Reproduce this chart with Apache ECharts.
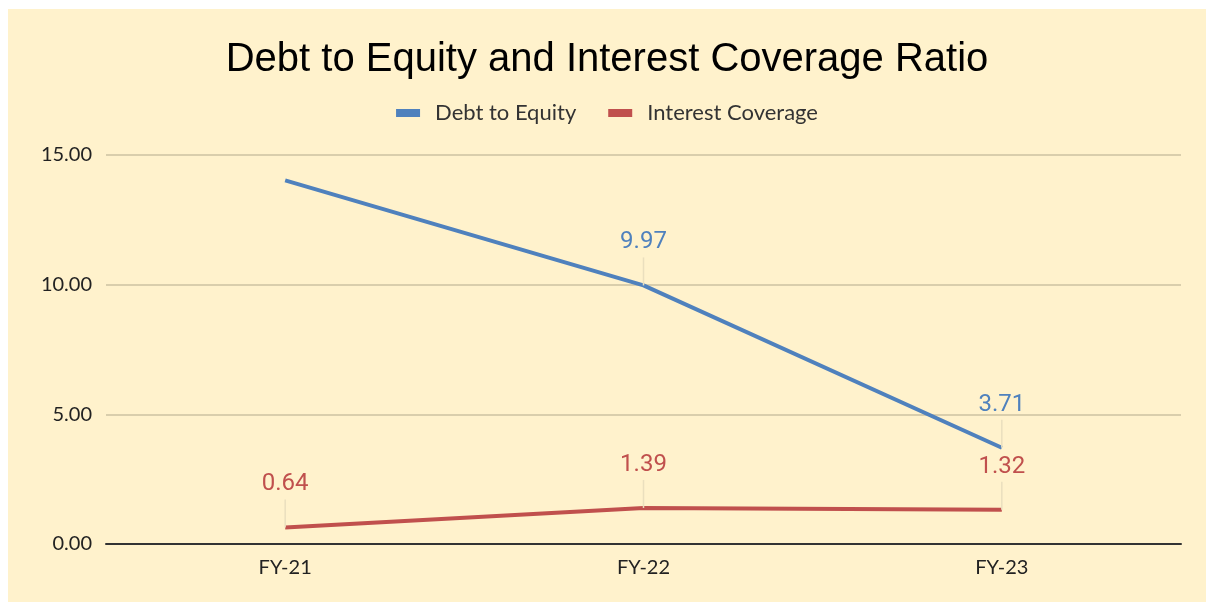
<!DOCTYPE html>
<html lang="en">
<head>
  <meta charset="utf-8">
  <title>Debt to Equity and Interest Coverage Ratio</title>
  <script src="https://cdn.jsdelivr.net/npm/echarts@6/dist/echarts.min.js"></script>
  <style>
    body { margin: 0; background: #fff; }
    .box {
      position: absolute;
      left: 8px;
      top: 9px;
      width: 1198px;
      height: 593px;
    }
  </style>
</head>
<body>
  <div class="box"></div>
  <script>
    // data
    var years = ['FY-21', 'FY-22', 'FY-23'];
    var debtToEquity = [14.02, 9.97, 3.71];
    var interestCoverage = [0.64, 1.39, 1.32];
    var showDebtLabel = [false, true, true];

    var myChart = echarts.init(document.querySelector('.box'));

    var debtData = debtToEquity.map(function (v, i) {
      return { value: v, label: { show: showDebtLabel[i] } };
    });

    function lineSeries(name, data, color) {
      return {
        name: name,
        type: 'line',
        data: data,
        symbol: 'circle',
        symbolSize: 0,
        showSymbol: true,
        lineStyle: { color: color, width: 4 },
        itemStyle: { color: color },
        label: {
          show: true,
          position: 'top',
          distance: 0,
          // number on top, thin leader line under it
          formatter: function (p) { return '{v|' + p.value.toFixed(2) + '}\n{l|}'; },
          rich: {
            v: { color: color, fontFamily: 'Roboto', fontSize: 24, lineHeight: 30 },
            l: { width: 1.5, height: 28, backgroundColor: '#EADFBE' }
          }
        },
        emphasis: { disabled: true }
      };
    }

    var option = {
      backgroundColor: '#FFF2CC',
      animation: false,
      title: {
        text: 'Debt to Equity and Interest Coverage Ratio',
        left: 'center',
        top: 26,
        textStyle: {
          fontFamily: 'Liberation Sans',
          fontSize: 40,
          fontWeight: 'normal',
          color: '#000'
        }
      },
      legend: {
        top: 88,
        left: 'center',
        itemWidth: 24,
        itemHeight: 8,
        itemGap: 32,
        icon: 'rect',
        textStyle: { fontFamily: 'Lato', fontSize: 22, color: '#333', padding: [0, 0, 0, 10] },
        data: ['Debt to Equity', 'Interest Coverage']
      },
      grid: { left: 98, right: 25, top: 146, bottom: 58 },
      xAxis: {
        type: 'category',
        data: years,
        axisTick: { show: false },
        axisLine: { lineStyle: { color: '#333', width: 2 } },
        axisLabel: { fontFamily: 'Lato', fontSize: 20, color: '#222', margin: 14 }
      },
      yAxis: {
        type: 'value',
        min: 0,
        max: 15,
        interval: 5,
        axisLine: { show: false },
        axisTick: { show: false },
        splitLine: { lineStyle: { color: '#CDC2A2', width: 1.5 } },
        axisLabel: {
          fontFamily: 'Lato',
          fontSize: 20,
          color: '#222',
          margin: 14,
          formatter: function (v) { return v.toFixed(2); }
        }
      },
      series: [
        lineSeries('Debt to Equity', debtData, '#4F81BD'),
        lineSeries('Interest Coverage', interestCoverage, '#C0504D')
      ]
    };
    myChart.setOption(option);
  </script>
</body>
</html>
